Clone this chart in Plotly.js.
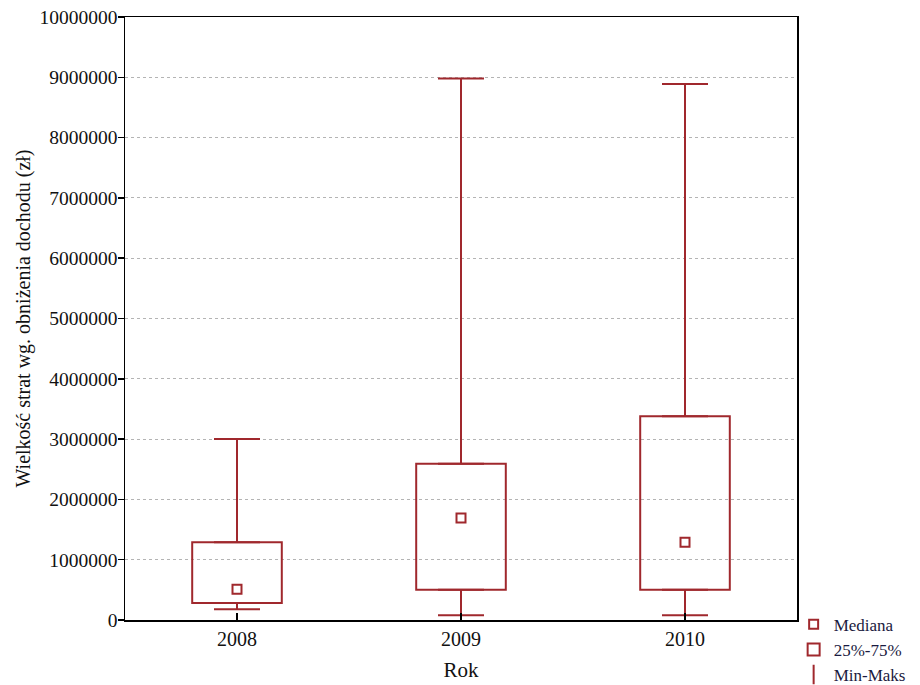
<!DOCTYPE html>
<html>
<head>
<meta charset="utf-8">
<script src="https://cdn.plot.ly/plotly-3.0.1.min.js"></script>
<style>html,body{margin:0;padding:0;background:#fff;}#chart{width:920px;height:685px;}</style>
</head>
<body>
<div id="chart"></div>
<script>
// Data
var years = ['2008', '2009', '2010'];
var minVals = [180000, 80000, 80000];
var q1Vals = [280000, 500000, 500000];
var medianVals = [510000, 1690000, 1290000];
var q3Vals = [1290000, 2590000, 3380000];
var maxVals = [3000000, 8980000, 8890000];
var legendLabels = ['Mediana', '25%-75%', 'Min-Maks'];
var yTickVals = [0, 1000000, 2000000, 3000000, 4000000, 5000000, 6000000, 7000000, 8000000, 9000000, 10000000];

var RED = '#a0282d';
var FONT = 'Liberation Serif, Times New Roman, serif';

var boxHeights = q3Vals.map(function (v, i) { return v - q1Vals[i]; });
var upperLen = maxVals.map(function (v, i) { return v - q3Vals[i]; });
var lowerLen = q1Vals.map(function (v, i) { return v - minVals[i]; });
var zeros = years.map(function () { return 0; });

var traces = [
  {
    type: 'bar', x: years, y: boxHeights, base: q1Vals, width: 0.4,
    name: legendLabels[1], legendrank: 2,
    marker: { color: 'rgba(255,255,255,0)', line: { color: RED, width: 2 } },
    hoverinfo: 'skip'
  },
  {
    type: 'scatter', mode: 'markers', x: years, y: q3Vals, showlegend: false,
    marker: { opacity: 0, size: 1 },
    error_y: { type: 'data', symmetric: false, array: upperLen, arrayminus: zeros, color: RED, thickness: 2, width: 23 },
    hoverinfo: 'skip'
  },
  {
    type: 'scatter', mode: 'markers', x: years, y: q1Vals, showlegend: false,
    marker: { opacity: 0, size: 1 },
    error_y: { type: 'data', symmetric: false, array: zeros, arrayminus: lowerLen, color: RED, thickness: 2, width: 23 },
    hoverinfo: 'skip'
  },
  {
    type: 'scatter', mode: 'markers', x: years, y: medianVals,
    name: legendLabels[0], legendrank: 1,
    marker: { symbol: 'square-open', size: 9, color: RED, line: { color: RED, width: 2 } }
  },
  {
    type: 'scatter', mode: 'markers', x: [null], y: [null],
    name: legendLabels[2], legendrank: 3,
    marker: { symbol: 'line-ns-open', size: 14, color: RED, line: { color: RED, width: 2 } }
  }
];

var layout = {
  width: 920, height: 685,
  margin: { l: 125, r: 123, t: 17, b: 65, autoexpand: false },
  paper_bgcolor: '#fff', plot_bgcolor: '#fff',
  font: { family: FONT, size: 20, color: '#111' },
  barmode: 'overlay',
  showlegend: true,
  legend: {
    x: 0.995, y: 0.022, xanchor: 'left', yanchor: 'top',
    bgcolor: 'rgba(0,0,0,0)', font: { family: FONT, size: 17, color: '#1a1a40' },
    tracegroupgap: 0, itemwidth: 30
  },
  xaxis: {
    type: 'category', range: [-0.5, 2.5],
    showline: true, linecolor: '#000', linewidth: 1.5, mirror: true,
    ticks: 'inside', ticklen: 7, tickcolor: '#000', tickwidth: 1.5,
    showgrid: false, zeroline: false,
    tickfont: { family: FONT, size: 20, color: '#111' },
    title: { text: 'Rok', font: { family: FONT, size: 21, color: '#111' }, standoff: 14 }
  },
  yaxis: {
    range: [0, 10000000], tickvals: yTickVals, tickformat: 'd',
    showline: true, linecolor: '#000', linewidth: 1.5, mirror: true,
    ticks: 'outside', ticklen: 6, tickcolor: '#000', tickwidth: 1.5,
    ticklabelstandoff: -4,
    showgrid: true, gridcolor: '#b4b4b4', griddash: 'dot', gridwidth: 1,
    zeroline: false,
    tickfont: { family: FONT, size: 19.5, color: '#111' },
    title: { text: 'Wielkość strat wg. obniżenia dochodu (zł)', font: { family: FONT, size: 20, color: '#111' }, standoff: 3 }
  },
  yaxis2: {
    overlaying: 'y', side: 'right', matches: 'y', range: [0, 10000000], tickvals: yTickVals,
    showticklabels: false, ticks: 'inside', ticklen: 6, tickcolor: '#000', tickwidth: 1.5,
    showgrid: false, zeroline: false, showline: false
  }
};

Plotly.newPlot('chart', traces, layout, { displayModeBar: false, staticPlot: true });
</script>
</body>
</html>
